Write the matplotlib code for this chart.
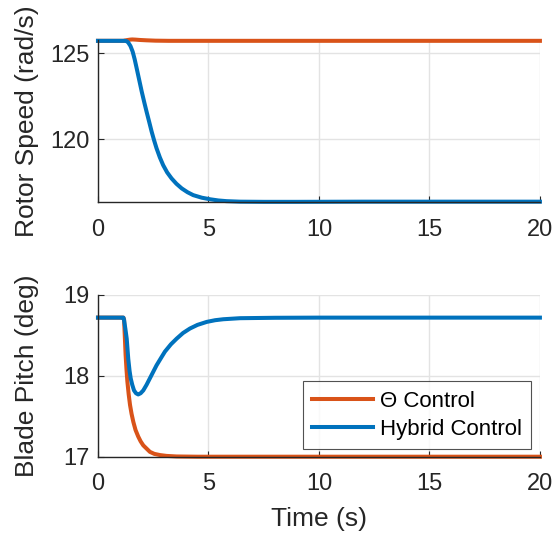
import matplotlib
matplotlib.use("Agg")
import matplotlib.pyplot as plt

plt.rcParams['font.family'] = ['Liberation Sans', 'DejaVu Sans']

# Rotor speed data (rad/s)
t_speed_theta = [0, 1.15, 1.3, 1.45, 1.55, 1.7, 1.9, 2.2, 2.6, 3.2, 4, 5, 10, 15, 20]
speed_theta = [125.72, 125.72, 125.76, 125.79, 125.8, 125.79, 125.77, 125.75, 125.73, 125.72, 125.72, 125.72, 125.72, 125.72, 125.72]

t_speed_hybrid = [0, 1.2, 1.3, 1.37, 1.47, 1.57, 1.66, 1.75, 1.86, 1.98, 2.1, 2.2, 2.32, 2.43, 2.54,
                  2.65, 2.8, 2.95, 3.13, 3.33, 3.55, 3.79, 4.05, 4.31, 4.7, 5.07, 5.45, 5.82,
                  6.43, 7.5, 9, 12, 15, 20]
speed_hybrid = [125.72, 125.72, 125.7, 125.62, 125.42, 125.09, 124.65, 124.13, 123.48, 122.77,
                122.12, 121.6, 121.0, 120.44, 119.94, 119.48, 118.95, 118.5, 118.08, 117.73,
                117.42, 117.15, 116.93, 116.76, 116.61, 116.52, 116.45, 116.41, 116.38,
                116.37, 116.37, 116.38, 116.38, 116.38]

# Blade pitch data (deg)
t_pitch_theta = [0, 1.15, 1.18, 1.22, 1.25, 1.29, 1.33, 1.39, 1.45, 1.52, 1.6, 1.7, 1.82, 1.93,
                 2.05, 2.2, 2.35, 2.55, 2.81, 3.1, 3.56, 4.5, 6, 10, 15, 20]
pitch_theta = [18.72, 18.72, 18.7, 18.45, 18.26, 18.08, 17.93, 17.77, 17.64, 17.53, 17.43, 17.33,
               17.25, 17.19, 17.14, 17.1, 17.06, 17.035, 17.02, 17.01, 17.003, 17.0, 17.0,
               17.0, 17.0, 17.0]

t_pitch_hybrid = [0, 1.15, 1.18, 1.24, 1.3, 1.37, 1.43, 1.48, 1.55, 1.63, 1.72, 1.82, 1.93, 2.05,
                  2.2, 2.35, 2.5, 2.65, 2.85, 3.03, 3.3, 3.56, 3.85, 4.16, 4.5, 4.92, 5.3, 5.67,
                  6.43, 8, 10, 15, 20]
pitch_hybrid = [18.72, 18.72, 18.69, 18.58, 18.46, 18.21, 18.06, 17.97, 17.89, 17.82, 17.785,
                17.77, 17.785, 17.82, 17.89, 17.97, 18.05, 18.13, 18.22, 18.30, 18.39, 18.46,
                18.53, 18.585, 18.63, 18.667, 18.688, 18.70, 18.713, 18.718, 18.72, 18.72, 18.72]

labels = ['\u0398 Control', 'Hybrid Control']
c_theta = '#D95319'
c_hybrid = '#0072BD'

fig = plt.figure(figsize=(5.58, 5.38), dpi=100)
ax1 = fig.add_axes([0.1756, 0.6245, 0.792, 0.3012])
ax2 = fig.add_axes([0.1756, 0.1511, 0.792, 0.3006])

lw = 2.9
ax1.plot(t_speed_theta, speed_theta, color=c_theta, lw=lw, label=labels[0], clip_on=False)
ax1.plot(t_speed_hybrid, speed_hybrid, color=c_hybrid, lw=lw, label=labels[1], clip_on=False)
ax2.plot(t_pitch_theta, pitch_theta, color=c_theta, lw=lw, label=labels[0], clip_on=False)
ax2.plot(t_pitch_hybrid, pitch_hybrid, color=c_hybrid, lw=lw, label=labels[1], clip_on=False)

ax1.set_ylim(116.36, 125.77)
ax1.set_yticks([120, 125])
ax2.set_ylim(17, 19)
ax2.set_yticks([17, 18, 19])

for ax in (ax1, ax2):
    ax.set_xlim(0, 20)
    ax.set_xticks([0, 5, 10, 15, 20])
    ax.grid(True, color='#e3e3e3', lw=1.0)
    ax.set_axisbelow(True)
    for s in ('top', 'right'):
        ax.spines[s].set_visible(False)
    for s in ('left', 'bottom'):
        ax.spines[s].set_color('#262626')
        ax.spines[s].set_linewidth(1.0)
    ax.tick_params(direction='in', labelsize=17, colors='#262626', length=4)
    ax.tick_params(axis='x', pad=12)
    ax.tick_params(axis='y', pad=6)

ax1.set_ylabel('Rotor Speed (rad/s)', fontsize=19, color='#262626', ha='center', va='center')
ax2.set_ylabel('Blade Pitch (deg)', fontsize=19, color='#262626', ha='center', va='center')
ax2.set_xlabel('Time (s)', fontsize=19, color='#262626', ha='center', va='center')
ax1.yaxis.set_label_coords(-0.161, 0.5)
ax2.yaxis.set_label_coords(-0.161, 0.5)
ax2.xaxis.set_label_coords(0.5, -0.385)

leg = ax2.legend(loc='lower right', bbox_to_anchor=(0.98, 0.045), fontsize=16,
                 frameon=True, fancybox=False, edgecolor='#262626',
                 handlelength=2.75, borderpad=0.42, labelspacing=0.33, handletextpad=0.3,
                 borderaxespad=0)
leg.get_frame().set_linewidth(0.8)

fig.savefig('out.png', dpi=100)
